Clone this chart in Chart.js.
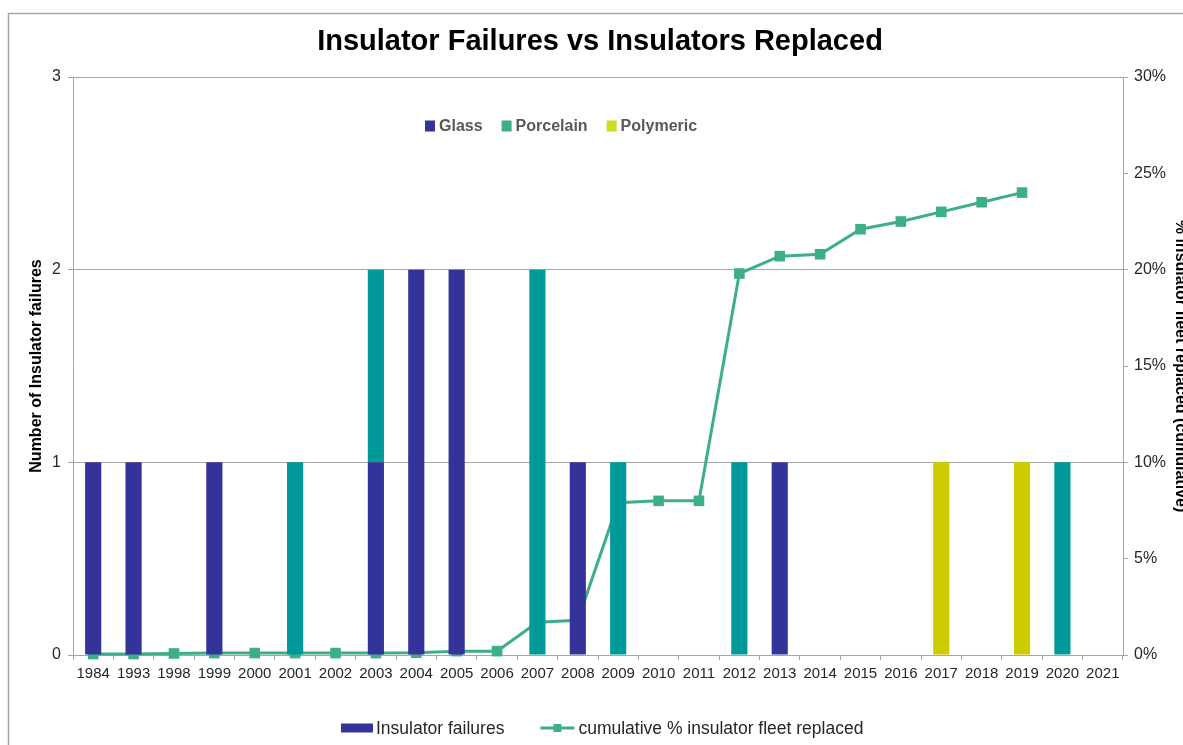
<!DOCTYPE html>
<html><head><meta charset="utf-8">
<script src="https://cdn.jsdelivr.net/npm/chart.js@4.4.1/dist/chart.umd.min.js"></script>
<style>
html,body{margin:0;padding:0;background:#fff;overflow:hidden;width:1183px;height:745px;}
#wrap{position:absolute;left:0;top:0;width:1200px;height:745px;}
</style></head><body>
<div id="wrap"><canvas id="c"></canvas></div>
<script>
// ---- data ----
const years = ['1984','1993','1998','1999','2000','2001','2002','2003','2004','2005','2006','2007','2008','2009','2010','2011','2012','2013','2014','2015','2016','2017','2018','2019','2020','2021'];
const glassFailures     = [1,1,null,1,null,null,null,1,2,2,null,null,1,null,null,null,null,1,null,null,null,null,null,null,null,null];
const porcelainFailures = [null,null,null,null,null,1,null,1,null,null,null,2,null,1,null,null,1,null,null,null,null,null,null,null,1,null];
const polymericFailures = [null,null,null,null,null,null,null,null,null,null,null,null,null,null,null,null,null,null,null,null,null,1,null,1,null,null];
const cumulativeReplacedPct = [0.05,0.05,0.08,0.1,0.1,0.1,0.1,0.1,0.12,0.2,0.2,1.7,1.8,7.9,8.0,8.0,19.8,20.7,20.8,22.1,22.5,23.0,23.5,24.0,null,null];
const seriesNames = ['Glass','Porcelain','Polymeric'];
const failuresLabel = 'Insulator failures';
const lineLabel = 'cumulative % insulator fleet replaced';
const rightTickSuffix = '%';

// ---- styles ----
const FONT = "'Liberation Sans', Arial, Helvetica, sans-serif";
const C_GLASS = '#333399', C_PORC = '#009999', C_POLY = '#CCCC00', C_LINE = '#3DAE89';
const LEG_COLORS = ['#333399', '#3DAE89', '#CCDD22'];
const GRID = '#A6A6A6';
const TXT = '#262626';

const framePlugin = {
  id: 'frame',
  beforeDraw(chart) {
    const ctx = chart.ctx;
    ctx.save();
    ctx.fillStyle = '#fff';
    ctx.fillRect(0, 0, chart.width, chart.height);
    ctx.strokeStyle = '#A6A6A6';
    ctx.lineWidth = 1.5;
    ctx.strokeRect(8.5, 13.5, 3000, 3000);
    ctx.restore();
  }
};

const legendPlugin = {
  id: 'legends',
  afterDraw(chart) {
    const ctx = chart.ctx;
    ctx.save();
    ctx.textBaseline = 'middle';
    ctx.textAlign = 'left';
    // inner legend (material types)
    ctx.font = 'bold 16px ' + FONT;
    let x = 425; const y = 126;
    seriesNames.forEach((name, i) => {
      ctx.fillStyle = LEG_COLORS[i];
      ctx.fillRect(x, y - 5.5, 10, 11);
      x += 14;
      ctx.fillStyle = '#595959';
      ctx.fillText(name, x, y + 1);
      x += ctx.measureText(name).width + 19;
    });
    // bottom legend
    const by = 728;
    ctx.font = '17.5px ' + FONT;
    let bx = 341;
    ctx.fillStyle = C_GLASS;
    ctx.fillRect(bx, by - 4.5, 32, 9);
    bx += 35;
    ctx.fillStyle = TXT;
    ctx.fillText(failuresLabel, bx, by + 1);
    bx += ctx.measureText(failuresLabel).width + 36;
    ctx.strokeStyle = C_LINE;
    ctx.lineWidth = 3;
    ctx.beginPath(); ctx.moveTo(bx, by); ctx.lineTo(bx + 34, by); ctx.stroke();
    ctx.fillStyle = C_LINE;
    ctx.fillRect(bx + 13, by - 4, 8, 8);
    bx += 38;
    ctx.fillStyle = TXT;
    ctx.fillText(lineLabel, bx, by + 1);
    ctx.restore();
  }
};

new Chart(document.getElementById('c'), {
  data: {
    labels: years,
    datasets: [
      {type: 'bar', label: seriesNames[0], data: glassFailures, backgroundColor: C_GLASS, stack: 'f', yAxisID: 'y', order: 0, barPercentage: 0.4, categoryPercentage: 1},
      {type: 'bar', label: seriesNames[1], data: porcelainFailures, backgroundColor: C_PORC, stack: 'f', yAxisID: 'y', order: 0, barPercentage: 0.4, categoryPercentage: 1},
      {type: 'bar', label: seriesNames[2], data: polymericFailures, backgroundColor: C_POLY, stack: 'f', yAxisID: 'y', order: 0, barPercentage: 0.4, categoryPercentage: 1},
      {type: 'line', label: lineLabel, data: cumulativeReplacedPct, yAxisID: 'y1', order: 1,
        borderColor: C_LINE, backgroundColor: C_LINE, borderWidth: 3, pointStyle: 'rect',
        pointRadius: 7.5, pointHoverRadius: 7.5, pointBorderWidth: 0, tension: 0, clip: false, spanGaps: false}
    ]
  },
  options: {
    responsive: true, maintainAspectRatio: false, animation: false,
    layout: {padding: {left: 0, right: 0, top: 0, bottom: 57}},
    plugins: {
      legend: {display: false},
      tooltip: {enabled: false},
      title: {display: true, text: 'Insulator Failures vs Insulators Replaced', color: '#000',
        font: {family: FONT, size: 29, weight: 'bold'}, padding: {top: 24.6, bottom: 17.6}}
    },
    scales: {
      x: {
        stacked: true, offset: true,
        grid: {offset: true, drawOnChartArea: false, drawTicks: true, tickLength: 5, color: GRID},
        border: {display: true, color: GRID},
        ticks: {color: TXT, font: {family: FONT, size: 15}, padding: 5, maxRotation: 0, autoSkip: false}
      },
      y: {
        position: 'left', stacked: true, min: 0, max: 3,
        ticks: {stepSize: 1, padding: 7, color: TXT, font: {family: FONT, size: 16}},
        grid: {color: GRID, tickLength: 5},
        border: {color: GRID},
        title: {display: true, text: 'Number of Insulator failures', color: '#000',
          font: {family: FONT, size: 16, weight: 'bold'}, padding: {top: 27.4, bottom: 0}},
        afterFit(s) { s.width = 73; }
      },
      y1: {
        position: 'right', min: 0, max: 30,
        ticks: {stepSize: 5, padding: 6, color: TXT, font: {family: FONT, size: 16}, callback: v => v + rightTickSuffix},
        grid: {drawOnChartArea: false, color: GRID, tickLength: 5},
        border: {color: GRID},
        title: {display: true, text: '% insulator fleet replaced (cumulative)', color: '#000',
          font: {family: FONT, size: 16, weight: 'bold'}, padding: {top: 10.4, bottom: 0}},
        afterFit(s) { s.width = 77; }
      }
    }
  },
  plugins: [framePlugin, legendPlugin]
});
</script>
</body></html>
